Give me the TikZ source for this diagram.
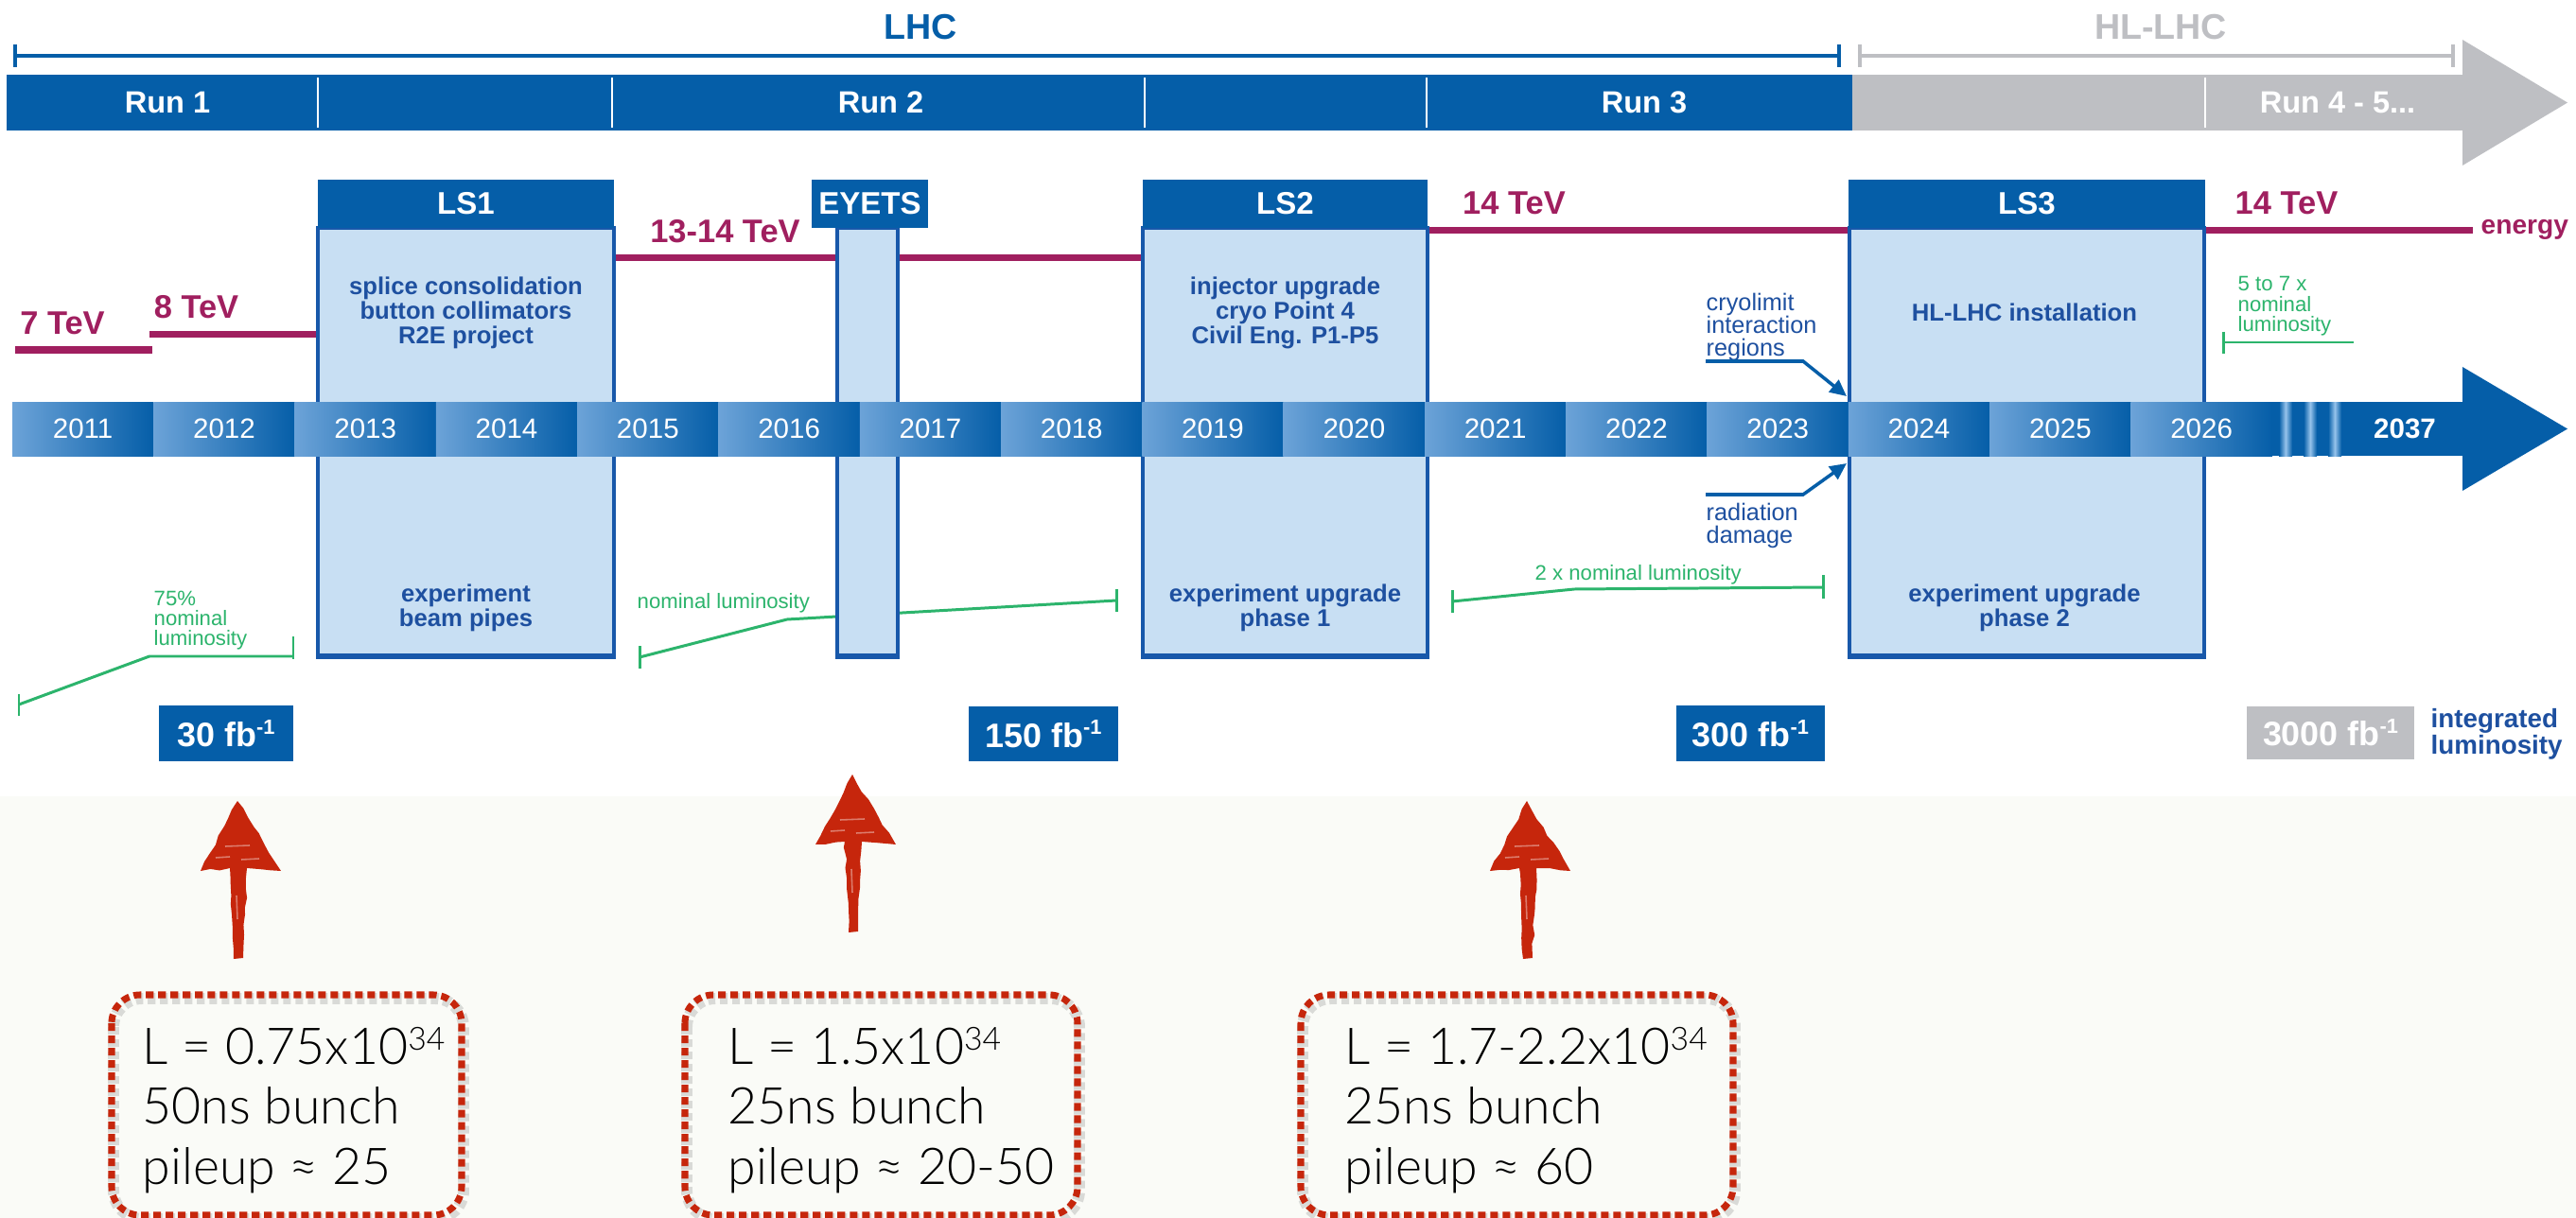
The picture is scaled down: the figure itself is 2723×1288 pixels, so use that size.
\documentclass[tikz,border=0pt]{standalone}
\usepackage{fontspec}
\setmainfont{Liberation Sans}
\IfFontExistsTF{Lato Light}
  {\newfontfamily\calloutfont{Lato Light}}
  {\newfontfamily\calloutfont{Liberation Sans}}
\usetikzlibrary{arrows.meta,decorations.pathmorphing}

\definecolor{lhcblue}{RGB}{5,94,168}
\definecolor{lsfill}{RGB}{200,223,243}
\definecolor{lsedge}{RGB}{24,88,170}
\definecolor{navy}{RGB}{30,80,160}
\definecolor{energyc}{RGB}{160,31,95}
\definecolor{lumig}{RGB}{44,180,108}
\definecolor{hlgray}{RGB}{190,191,195}
\definecolor{yearlight}{RGB}{108,163,216}
\definecolor{stripe}{RGB}{150,195,235}
\definecolor{handred}{RGB}{198,38,12}
\definecolor{paper}{RGB}{250,251,247}

\newcommand{\fsz}[2]{\fontsize{#1}{#2}\selectfont}
\newcommand{\lumisup}{\raisebox{3.8pt}{\fsz{6.2}{7}-1}}
\newcommand{\tenpow}{\raisebox{4pt}{\fsz{9.6}{10}34}}

\begin{document}
\begin{tikzpicture}[x=0.01cm,y=-0.01cm,
  runlabel/.style={text=white,font=\fsz{9.25}{11}\bfseries,inner sep=0},
  phaselabel/.style={font=\fsz{10.7}{12}\bfseries,inner sep=0},
  divider/.style={draw=white,line width=0.7pt},
  bracket/.style={line width=1.3pt},
  energyline/.style={draw=energyc,line width=2.1pt},
  energylabel/.style={text=energyc,font=\fsz{9.8}{11}\bfseries,inner sep=0},
  lumiline/.style={draw=lumig,line width=0.85pt},
  lumitext/.style={text=lumig,font=\fsz{6.3}{6.1},align=left,inner sep=0,anchor=north west},
  lsbox/.style={fill=lsfill,draw=lsedge,line width=0.9pt},
  lshead/.style={fill=lhcblue,text=white,font=\fsz{9.4}{11}\bfseries,inner sep=0,minimum height=0.51cm},
  lstext/.style={text=navy,font=\fsz{7.3}{7.45}\bfseries,align=center,inner sep=0,anchor=north},
  yearlabel/.style={text=white,font=\fsz{8.4}{10},inner sep=0},
  notetext/.style={text=navy,font=\fsz{7.2}{6.9},align=left,inner sep=0,anchor=north west},
  notearrow/.style={draw=lhcblue,line width=1pt,-{Triangle[length=5pt,width=4.6pt]}},
  intlumi/.style={text=white,font=\fsz{10.2}{12}\bfseries,inner sep=0,minimum height=0.585cm},
  callout/.style={draw=handred,line width=2pt,dash pattern=on 2.3pt off 1.4pt,rounded corners=0.3cm},
  calloutshade/.style={draw=black,opacity=0.13,line width=3.4pt,dash pattern=on 2.3pt off 1.4pt,rounded corners=0.3cm},
  calltext/.style={font=\calloutfont\fsz{15.25}{18},inner sep=0,anchor=base west},
  handdrawn/.style={fill=handred,decorate,decoration={random steps,segment length=3pt,amplitude=0.4pt}},
  streak/.style={draw=white,opacity=0.4,line width=0.45pt},
]
\fill[white] (0,0) rectangle (2723,1288);
\fill[paper] (0,842) rectangle (2723,1288);
\useasboundingbox (0,0) rectangle (2723,1288);

% ---- LHC / HL-LHC brackets
\draw[bracket,lhcblue] (16,59) -- (1944,59);
\draw[bracket,lhcblue] (16,47) -- (16,71) (1944,47) -- (1944,71);
\node[phaselabel,text=lhcblue] (lhc) at (973,29) {LHC};
\draw[bracket,hlgray] (1966,59) -- (2593,59);
\draw[bracket,hlgray] (1966,47) -- (1966,71) (2593,47) -- (2593,71);
\node[phaselabel,text=hlgray] (hllhc) at (2284,29) {HL-LHC};

% ---- run bar
\fill[lhcblue] (7,79) rectangle (1958,138);
\fill[hlgray] (1958,79) rectangle (2604,138);
\fill[hlgray] (2603,42) -- (2714,108.5) -- (2603,175) -- cycle;
\foreach \dx in {336,647,1210,1508,2331} \draw[divider] (\dx,82) -- (\dx,135);
\node[runlabel] (run1) at (177,108.5) {Run 1};
\node[runlabel] (run2) at (931,108.5) {Run 2};
\node[runlabel] (run3) at (1738,108.5) {Run 3};
\node[runlabel] (run45) at (2471,108.5) {Run 4 - 5...};

% ---- beam energy
\draw[energyline] (16,370) -- (161,370);
\draw[energyline] (158,353.5) -- (336,353.5);
\draw[energyline] (649,272.5) -- (1208,272.5);
\draw[energyline] (1509,243.5) -- (1955,243.5);
\draw[energyline] (2330,243.5) -- (2614,243.5);
\node[energylabel] (e7) at (66,341.5) {7 TeV};
\node[energylabel] (e8) at (207.5,325) {8 TeV};
\node[energylabel] (e13) at (766.5,245) {13-14 TeV};
\node[energylabel] (e14a) at (1600.5,215) {14 TeV};
\node[energylabel] (e14b) at (2417,215) {14 TeV};
\node[energylabel,font=\fsz{8}{9}\bfseries,anchor=base west] (energy) at (2622,248) {energy};

% ---- luminosity levels
\draw[lumiline] (20,745) -- (158,694) -- (310,694);
\draw[lumiline] (20,734) -- (20,757);
\draw[lumiline] (310,673) -- (310,697);
\node[lumitext] (l75) at (162,624) {75\%\\nominal\\luminosity};
\draw[lumiline] (676,695) -- (832,655) -- (1180,635);
\draw[lumiline] (676,683) -- (676,707);
\draw[lumiline] (1180,623) -- (1180,647);
\node[lumitext] (lnom) at (673,627) {nominal luminosity};
\draw[lumiline] (1535,636) -- (1664,623) -- (1927,621);
\draw[lumiline] (1535,624) -- (1535,648);
\draw[lumiline] (1927,608) -- (1927,633);
\node[lumitext] (l2x) at (1622,597) {2 x nominal luminosity};
\draw[lumiline] (2350,362) -- (2488,362);
\draw[lumiline] (2350,351) -- (2350,374);
\node[lumitext] (l57) at (2365,292) {5 to 7 x\\nominal\\luminosity};

% ---- shutdown periods
\draw[lsbox] (336,241) rectangle (649,695);
\draw[lsedge,line width=1.5pt] (336,694) -- (649,694);
\draw[lsbox] (885,241) rectangle (949,695);
\draw[lsedge,line width=1.5pt] (885,694) -- (949,694);
\draw[lsbox] (1208,241) rectangle (1509,695);
\draw[lsedge,line width=1.5pt] (1208,694) -- (1509,694);
\draw[lsbox] (1955,241) rectangle (2330,695);
\draw[lsedge,line width=1.5pt] (1955,694) -- (2330,694);
\node[lshead,minimum width=3.13cm] (ls1) at (492.5,215.5) {LS1};
\node[lshead,minimum width=1.23cm] (eyets) at (919.5,215.5) {EYETS};
\node[lshead,minimum width=3.01cm] (ls2) at (1358.5,215.5) {LS2};
\node[lshead,minimum width=3.76cm] (ls3) at (2142.5,215.5) {LS3};

% ---- calendar years
\foreach \i/\yr in {0/2011,1/2012,2/2013,3/2014,4/2015,5/2016,6/2017,7/2018,8/2019,9/2020,10/2021,11/2022,12/2023,13/2024,14/2025,15/2026} {
  \pgfmathsetmacro\xa{13+149.3*\i}
  \pgfmathsetmacro\xb{13+149.3*(\i+1)}
  \shade[left color=yearlight,right color=lhcblue] (\xa,425) rectangle (\xb,482);
  \node[yearlabel] (y\yr) at ({(\xa+\xb)/2},453.5) {\yr};
}
\fill[lhcblue] (2401,425) rectangle (2604,482);
\foreach \sx in {2416,2442,2468}
  \shade[left color=lhcblue,right color=lhcblue,middle color=stripe] (\sx-7,425) rectangle (\sx+7,482);
\fill[lhcblue] (2603,388) -- (2714,453.5) -- (2603,519) -- cycle;
\node[yearlabel,font=\fsz{8.4}{10}\bfseries] (y2037) at (2542,453.5) {2037};

% ---- work in each shutdown
\node[lstext] (ls1top) at (492.5,292) {splice consolidation\\button collimators\\R2E project};
\node[lstext] (ls1bot) at (492.5,617) {experiment\\beam pipes};
\node[lstext] (ls2top) at (1358.5,292) {injector upgrade\\cryo Point 4\\Civil Eng. P1-P5};
\node[lstext] (ls2bot) at (1358.5,617) {experiment upgrade\\phase 1};
\node[lstext] (ls3top) at (2140,320) {HL-LHC installation};
\node[lstext] (ls3bot) at (2140,617) {experiment upgrade\\phase 2};

% ---- limits reached before LS3
\node[notetext] (cryo) at (1803,309) {cryolimit\\interaction\\regions};
\node[notetext] (rad) at (1803,531) {radiation\\damage};
\coordinate (cryoKnee) at (1906,382);
\coordinate (cryoTip) at (1952,419);
\coordinate (radKnee) at (1906,523);
\coordinate (radTip) at (1952,490);
\draw[notearrow] (cryo.south west |- cryoKnee) -- (cryoKnee) -- (cryoTip);
\draw[notearrow] (rad.north west |- radKnee) -- (radKnee) -- (radTip);

% ---- integrated luminosity
\node[intlumi,fill=lhcblue,minimum width=1.42cm] (i30) at (239,775.5) {30 fb\lumisup};
\node[intlumi,fill=lhcblue,minimum width=1.58cm] (i150) at (1103,776) {150 fb\lumisup};
\node[intlumi,fill=lhcblue,minimum width=1.57cm] (i300) at (1850.5,775.5) {300 fb\lumisup};
\node[intlumi,fill=hlgray,minimum width=1.77cm,minimum height=0.56cm] (i3000) at (2463.5,775) {3000 fb\lumisup};
\node[text=navy,font=\fsz{7.9}{8}\bfseries,align=left,inner sep=0,anchor=north west] (intlab) at (2569,749) {integrated\\luminosity};

% ---- hand-drawn pointers
\foreach \ax/\ay in {252/847,902/819,1615/847} {
  \path[handdrawn] (\ax-1,\ay) -- (\ax+45,\ay+74) -- (\ax+9,\ay+71) -- (\ax+7,\ay+120)
    -- (\ax+5,\ay+166) -- (\ax-5,\ay+167) -- (\ax-7,\ay+120) -- (\ax-9,\ay+71)
    -- (\ax-40,\ay+74) -- cycle;
  \draw[streak] (\ax-24,\ay+60) -- (\ax-9,\ay+59) (\ax+3,\ay+62) -- (\ax+22,\ay+61)
    (\ax-14,\ay+48) -- (\ax+12,\ay+47) (\ax-2,\ay+100) -- (\ax-1,\ay+125);
}

% ---- running conditions
\foreach \bx/\bxx in {118/488,724/1139,1375/1832} {
  \draw[calloutshade] (\bx+2,1056) rectangle (\bxx+2,1289);
  \draw[callout] (\bx,1052) rectangle (\bxx,1285);
}
\node[calltext] (c1a) at (150,1125) {L = 0.75x10\tenpow};
\node[calltext] (c1b) at (150,1188.5) {50ns bunch};
\node[calltext] (c1c) at (150,1252) {pileup ≈ 25};
\node[calltext] (c2a) at (769,1125) {L = 1.5x10\tenpow};
\node[calltext] (c2b) at (769,1188.5) {25ns bunch};
\node[calltext] (c2c) at (769,1252) {pileup ≈ 20-50};
\node[calltext] (c3a) at (1421,1125) {L = 1.7-2.2x10\tenpow};
\node[calltext] (c3b) at (1421,1188.5) {25ns bunch};
\node[calltext] (c3c) at (1421,1252) {pileup ≈ 60};
\end{tikzpicture}
\end{document}
